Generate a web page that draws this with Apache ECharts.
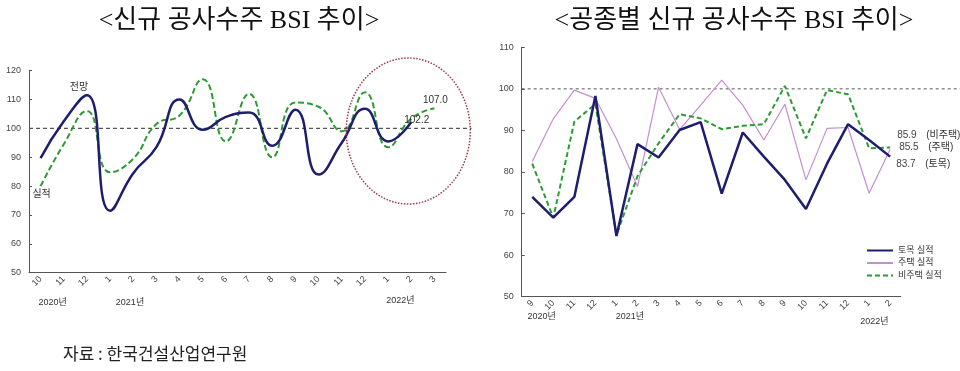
<!DOCTYPE html>
<html><head><meta charset="utf-8">
<script src="https://cdn.jsdelivr.net/npm/echarts@6/dist/echarts.min.js"></script>
<style>html,body{margin:0;padding:0;background:#fff}#c{width:960px;height:371px}</style>
</head><body><div id="c"></div>
<script>
// ---------- data ----------
const leftCategories = ['10','11','12','1','2','3','4','5','6','7','8','9','10','11','12','1','2','3'];
const leftBlue  = [89.7,102.5,111.5,71.5,84.5,93.5,110,99.5,104,105.5,94,106.5,84,95,106.8,95.5,102.2];
const leftGreen = [80,94.5,106,84.8,89.5,101.5,104.5,117,95.5,112,90,109,107.5,99,112.5,93.5,103.4,107.0];
const leftYearLabels = ['2020년','2021년','2022년'];

const rightCategories = ['9','10','11','12','1','2','3','4','5','6','7','8','9','10','11','12','1','2'];
const civil      = [74,69,74,98.3,64.6,86.7,83.5,90.1,92,74.8,89.5,83.7,78.1,71.1,82,91.5,87.7,83.7];
const housing    = [82.5,92.8,99.7,97.7,88,76.5,100.4,90.2,96.1,102.1,96.1,87.7,96.3,78.1,90.5,90.7,74.9,85.5];
const nonHousing = [82,69,92.1,96.4,64.8,79,86.9,93.9,92.9,90.3,91.1,91.5,100.7,88.1,99.7,98.7,85.7,85.9];
const rightNames = ['토목 실적','주택 실적','비주택 실적'];
const rightTags  = ['(토목)','(주택)','(비주택)'];
const rightYearLabels = ['2020년','2021년','2022년'];
const baseline = 100;

// ---------- layout / style ----------
const FONT = 'Liberation Sans, "Noto Sans CJK KR", sans-serif';
const NAVY = '#1e1d6e', GREEN = '#2f9a35', PINK = '#c48fcf', AXIS = '#555';
const leftYearPos  = [[0.52, 30], [3.86, 30], [15.53, 28]];   // fractional category index, dy below axis
const rightYearPos = [[0.45, 20], [4.64, 20], [16.25, 25]];

function axisX(gi, cats) {
  return {
    type: 'category', gridIndex: gi, data: cats, boundaryGap: true,
    axisLine: {lineStyle: {color: AXIS, width: 1}},
    axisTick: {inside: true, length: 3, lineStyle: {color: AXIS}},
    axisLabel: {rotate: 45, fontSize: 9, color: '#444', margin: 5, interval: 0, fontFamily: FONT}
  };
}
function axisY(gi, min, max) {
  return {
    type: 'value', gridIndex: gi, min: min, max: max, interval: 10,
    splitLine: {show: false},
    axisLine: {show: true, lineStyle: {color: AXIS, width: 1}},
    axisTick: {show: true, inside: true, length: 3, lineStyle: {color: AXIS}},
    axisLabel: {fontSize: 9, color: '#444', margin: 8, fontFamily: FONT}
  };
}
const lbl = {fontSize: 10, color: '#333', fontFamily: FONT};
function labelled(v, label) {
  return {value: v, label: Object.assign({show: true}, lbl, label)};
}

const blueData = leftBlue.map((v, i) => {
  if (i === 2) return labelled(v, {position: 'top', offset: [-8, 2], formatter: '전망'});
  if (i === leftBlue.length - 1) return labelled(v, {position: 'right', offset: [-12, -2], formatter: p => p.value.toFixed(1)});
  return v;
});
const greenData = leftGreen.map((v, i) => {
  if (i === 0) return labelled(v, {position: 'bottom', offset: [1, -2], formatter: '실적'});
  if (i === leftGreen.length - 1) return labelled(v, {position: 'top', offset: [1, 2], formatter: p => p.value.toFixed(1)});
  return v;
});

const endOffsets = [[1, 7.5], [4, -2], [2, -12.5]];
function endData(arr, k) {
  return arr.map((v, i) => i === arr.length - 1 ? labelled(v, {
    position: 'right', distance: 5, offset: endOffsets[k],
    formatter: p => '{n|' + p.value.toFixed(1) + '}{t|' + rightTags[k] + '}',
    rich: {n: {width: 29, fontSize: 10, color: '#444', fontFamily: FONT},
           t: {fontSize: 10, color: '#333', fontFamily: FONT}}
  }) : v);
}

const common = {type: 'line', symbol: 'circle', symbolSize: 0, showSymbol: true, showAllSymbol: true,
                label: {show: false}, emphasis: {disabled: true}};

const option = {
  animation: false,
  backgroundColor: '#fff',
  title: [
    {text: '<신규 공사수주 BSI 추이>', left: 234, top: 3, textAlign: 'center',
     textStyle: {fontSize: 26, fontWeight: 'normal', color: '#111', fontFamily: 'Liberation Serif, "Noto Sans CJK KR", serif'}},
    {text: '<공종별 신규 공사수주 BSI 추이>', left: 729, top: 3, textAlign: 'center',
     textStyle: {fontSize: 26, fontWeight: 'normal', color: '#111', fontFamily: 'Liberation Serif, "Noto Sans CJK KR", serif'}}
  ],
  grid: [
    {left: 29, top: 70.7, width: 417, bottom: 98.3},
    {left: 521.7, top: 47.3, width: 379, bottom: 74.3}
  ],
  xAxis: [axisX(0, leftCategories), axisX(1, rightCategories)],
  yAxis: [axisY(0, 50, 120), axisY(1, 50, 110)],
  legend: {
    orient: 'vertical', left: 866, top: 246, itemWidth: 26, itemHeight: 10, itemGap: 3.5,
    itemStyle: {opacity: 0},
    data: rightNames, textStyle: {fontSize: 9, color: '#333', fontFamily: FONT}, padding: 0
  },
  series: [
    Object.assign({}, common, {xAxisIndex: 0, yAxisIndex: 0, data: greenData, smooth: 0.5,
     lineStyle: {color: GREEN, width: 2, type: [6, 3]}, itemStyle: {color: GREEN}, z: 3}),
    Object.assign({}, common, {xAxisIndex: 0, yAxisIndex: 0, data: blueData, smooth: 0.5,
     lineStyle: {color: NAVY, width: 2.5}, itemStyle: {color: NAVY}, z: 4}),
    Object.assign({}, common, {name: rightNames[0], xAxisIndex: 1, yAxisIndex: 1, data: endData(civil, 0),
     lineStyle: {color: NAVY, width: 2.5}, itemStyle: {color: NAVY}, z: 4}),
    Object.assign({}, common, {name: rightNames[1], xAxisIndex: 1, yAxisIndex: 1, data: endData(housing, 1),
     lineStyle: {color: PINK, width: 1.2}, itemStyle: {color: PINK}, z: 2}),
    Object.assign({}, common, {name: rightNames[2], xAxisIndex: 1, yAxisIndex: 1, data: endData(nonHousing, 2),
     lineStyle: {color: GREEN, width: 2, type: [5, 3]}, itemStyle: {color: GREEN}, z: 3})
  ]
};

const chart = echarts.init(document.getElementById('c'), null, {renderer: 'canvas'});
chart.setOption(option);

// ---------- annotations positioned through the chart's own scales ----------
function catX(gi, f) {
  const a = chart.convertToPixel({gridIndex: gi}, [0, 100])[0];
  const b = chart.convertToPixel({gridIndex: gi}, [1, 100])[0];
  return a + f * (b - a);
}
function valY(gi, v) { return chart.convertToPixel({gridIndex: gi}, [0, v])[1]; }
const yAxisBottomL = valY(0, 50), yAxisBottomR = valY(1, 50);
const graphics = [];
leftYearLabels.forEach((t, i) => graphics.push({type: 'text', x: catX(0, leftYearPos[i][0]), y: yAxisBottomL + leftYearPos[i][1],
  style: {text: t, font: '9px ' + FONT, fill: '#333', textAlign: 'center', textVerticalAlign: 'middle'}}));
rightYearLabels.forEach((t, i) => graphics.push({type: 'text', x: catX(1, rightYearPos[i][0]), y: yAxisBottomR + rightYearPos[i][1],
  style: {text: t, font: '9px ' + FONT, fill: '#333', textAlign: 'center', textVerticalAlign: 'middle'}}));
// baseline dashed lines
const x0L = catX(0, -0.5), x0R = catX(1, -0.5);
graphics.push({type: 'line', shape: {x1: x0L, y1: valY(0, baseline), x2: catX(0, 18.6), y2: valY(0, baseline)},
  style: {stroke: '#555', lineWidth: 1.2, lineDash: [4, 3]}, z: 1});
graphics.push({type: 'line', shape: {x1: x0R, y1: valY(1, baseline), x2: 960, y2: valY(1, baseline)},
  style: {stroke: '#555', lineWidth: 1, lineDash: [3, 3]}, z: 1});
// dotted ellipse highlighting recent months
graphics.push({type: 'ellipse', shape: {cx: catX(0, 15.87), cy: valY(0, 99.1), rx: 62, ry: 73},
  style: {fill: 'none', stroke: '#9b3a4a', lineWidth: 1.5, lineDash: [1.5, 1.5]}, z: 5});
// source
graphics.push({type: 'text', left: 63, top: 345, style: {text: '자료 : 한국건설산업연구원', font: '17px "Noto Sans CJK KR", sans-serif', fill: '#222'}});
chart.setOption({graphic: graphics});
</script></body></html>
